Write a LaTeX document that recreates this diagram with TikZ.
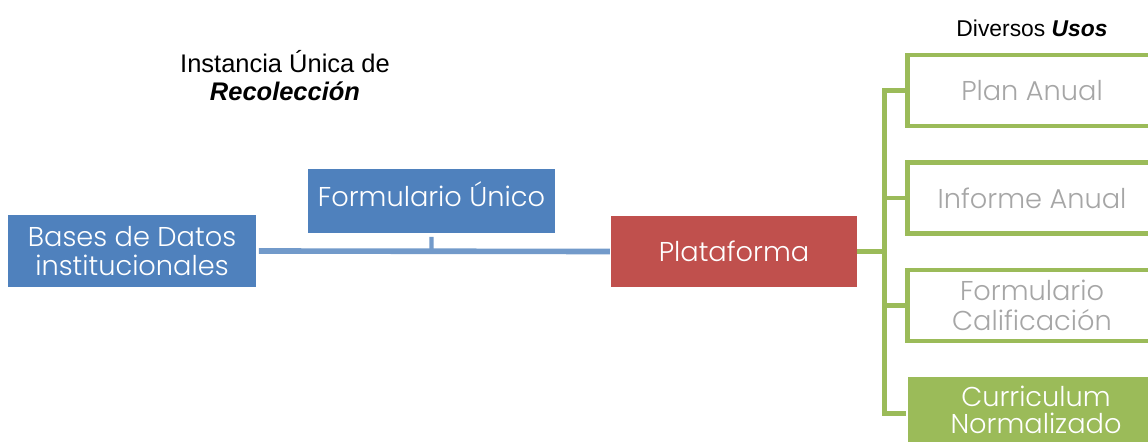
\documentclass[tikz,border=0pt]{standalone}
\usepackage{fontspec}
\setmainfont{Liberation Sans}
\newfontfamily\gothic{Poppins}[UprightFont=* Light]
\usetikzlibrary{positioning,calc}

\definecolor{azul}{RGB}{79,129,189}
\definecolor{rojo}{RGB}{192,80,77}
\definecolor{verde}{RGB}{155,187,89}
\definecolor{gris}{RGB}{166,166,166}

\tikzset{
  caja/.style={fill=azul, text=white, font=\gothic\fontsize{15.5}{17}\selectfont,
    align=center, inner sep=0pt},
  uso/.style={draw=verde, line width=2.8pt, fill=white, text=gris,
    font=\gothic\fontsize{15.5}{17}\selectfont, align=center, inner sep=0pt,
    minimum width=5cm, minimum height=1.42cm},
  enlace/.style={line width=3.2pt, azul!80!white},
  rama/.style={line width=2.8pt, verde}
}

\begin{document}
\begin{tikzpicture}[x=0.02cm, y=-0.02cm]
  \useasboundingbox (0,0) rectangle (1148,442);
  \clip (0,0) rectangle (1148,442);

  % notas
  \node[align=center, font=\fontsize{14.5}{16}\selectfont] (nota) at (285,76)
    {Instancia Única de\\ \textbf{\textit{Recolección}}};
  \node[font=\fontsize{13}{14}\selectfont] (diversos) at (1032,28)
    {Diversos \textbf{\textit{Usos}}};

  % recoleccion
  \node[caja, minimum width=4.96cm, minimum height=1.44cm] (bases) at (132,251)
    {Bases de Datos\\institucionales};
  \node[caja, minimum width=4.94cm, text height=21pt, text depth=15.3pt, anchor=north]
    (formulario) at (431.5,169) {Formulario Único};
  \node[caja, fill=rojo, minimum width=4.92cm, minimum height=1.42cm] (plataforma) at (734,251.5)
    {Plataforma};

  \coordinate (union) at ($(bases.east)!(formulario.south)!(plataforma.west)$);
  \draw[enlace] ([xshift=1.5pt]bases.east) -- ([xshift=-0.5pt]plataforma.west);
  \draw[enlace, line width=2.5pt] ([yshift=-2pt]formulario.south) -- (union);

  % usos
  \node[uso] (plan) at (1032,90.5) {Plan Anual};
  \node[uso] (informe) at (1032,198) {Informe Anual};
  \node[uso] (califica) at (1032,305.5) {Formulario\\Calificación};
  \node[uso, fill=verde, draw=none, text=white, minimum width=5.12cm, minimum height=1.32cm,
    font=\gothic\fontsize{15.5}{15.5}\selectfont]
    (curriculum) at (1036,410) {Curriculum\\Normalizado};

  \coordinate (eje) at ($(plataforma.east)+(27,0)$);
  \draw[rama] (plataforma.east) -- (eje);
  \draw[rama] (plan.west) -| (eje |- plan.west) |- ([yshift=-2pt]curriculum.west);
  \draw[rama] (informe.west) -- (eje |- informe.west);
  \draw[rama] (califica.west) -- (eje |- califica.west);
\end{tikzpicture}
\end{document}
